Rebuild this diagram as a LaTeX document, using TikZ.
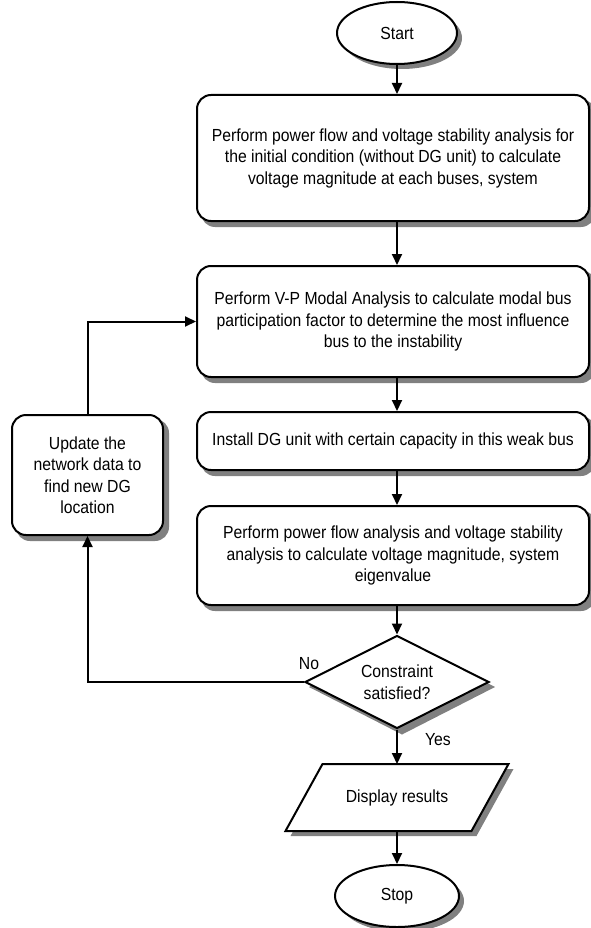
\documentclass[tikz,border=0pt]{standalone}
\usepackage{fontspec}
\setmainfont{Liberation Sans}[FakeStretch=0.9]
\usetikzlibrary{shapes.geometric,arrows.meta,backgrounds}
\begin{document}
\begin{tikzpicture}[x=1pt,y=-1pt,line width=2pt,
    font=\fontsize{17.5}{21.5}\selectfont,
    shd/.style={fill=black!50,draw=none},
    term/.style={draw,ellipse,fill=white,minimum width=120,minimum height=62,inner sep=0pt},
    proc/.style={draw,rounded corners=14pt,fill=white,align=center,minimum width=392,inner sep=0pt},
    dec/.style={draw,diamond,fill=white,aspect=2,minimum width=184,minimum height=93,inner sep=0pt,align=center},
    arr/.style={-{Triangle[length=11pt,width=10pt]}}]
      \useasboundingbox (0,0) rectangle (590,928);
      \node[term] (start) at (397,33) {Start};
      \node[proc,minimum height=126] (flow) at (393,158)
        {Perform power flow and voltage stability analysis for\\the initial condition (without DG unit) to calculate\\voltage magnitude at each buses, system};
      \node[proc,minimum height=111] (modal) at (393,321.5)
        {Perform V-P Modal Analysis to calculate modal bus\\participation factor to determine the most influence\\bus to the instability};
      \node[proc,minimum height=58] (install) at (393,441)
        {Install DG unit with certain capacity in this weak bus};
      \node[proc,minimum height=99] (flowdg) at (393,555.5)
        {Perform power flow analysis and voltage stability\\analysis to calculate voltage magnitude, system\\eigenvalue};
      \node[dec] (check) at (397,682) {Constraint\\satisfied?};
      \node[minimum width=184,minimum height=65,inner sep=0pt] (show) at (397,797.5) {};
      \node[term,minimum width=124] (stop) at (397,896) {Stop};
      \node[proc,minimum width=151,minimum height=120] (update) at (87.5,475)
        {Update the\\network data to\\find new DG\\location};
      \filldraw[fill=white] ([xshift=18.5]show.north west) -- ([xshift=18.5]show.north east)
        -- ([xshift=-18.5]show.south east) -- ([xshift=-18.5]show.south west) -- cycle;
      \node at (show) {Display results};
      \begin{scope}[on background layer]
      \foreach \n in {flow,modal,install,flowdg,update}
        \fill[shd,rounded corners=14pt] ([shift={(5,5)}]\n.north west) rectangle ([shift={(5,5)}]\n.south east);
      \fill[shd] ([shift={(5,5)}]start.center) ellipse [x radius=60,y radius=31];
      \fill[shd] ([shift={(5,5)}]stop.center) ellipse [x radius=62,y radius=31];
      \fill[shd] ([shift={(5,5)}]check.north) -- ([shift={(5,5)}]check.east)
        -- ([shift={(5,5)}]check.south) -- ([shift={(5,5)}]check.west) -- cycle;
      \fill[shd] ([shift={(23.5,5)}]show.north west) -- ([shift={(23.5,5)}]show.north east)
        -- ([shift={(-13.5,5)}]show.south east) -- ([shift={(-13.5,5)}]show.south west) -- cycle;
      \end{scope}
      \draw[arr] (start) -- (flow.north -| start);
      \draw[arr] (flow.south -| start) -- (modal.north -| start);
      \draw[arr] (modal.south -| start) -- (install.north -| start);
      \draw[arr] (install.south -| start) -- (flowdg.north -| start);
      \draw[arr] (flowdg.south -| start) -- (check);
      \draw[arr] (check) -- (show.north -| check) ;
      \draw[arr] (show.south -| check) -- (stop);
      \draw[arr] (check.west) -| (update.south) ;
      \draw[arr] (update.north) |- (modal.west) ;
      \node (no) at (309,664) {No};
      \node (yes) at (438,740) {Yes};
    \end{tikzpicture}
\end{document}
